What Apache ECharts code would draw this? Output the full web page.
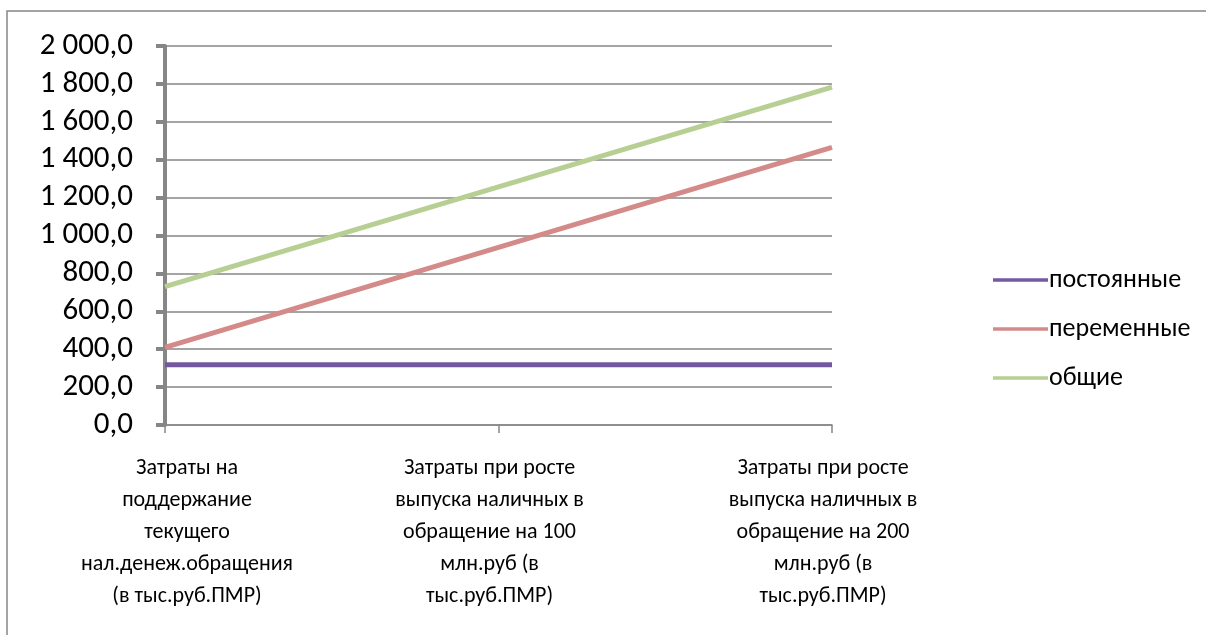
<!DOCTYPE html>
<html><head><meta charset="utf-8">
<script src="https://cdn.jsdelivr.net/npm/echarts@6/dist/echarts.min.js"></script>
<style>html,body{margin:0;padding:0;background:#fff}#c{width:1206px;height:635px}</style>
</head><body><div id="c"></div>
<script>
const categories = [
  "Затраты на\nподдержание\nтекущего\nнал.денеж.обращения\n(в тыс.руб.ПМР)",
  "Затраты при росте\nвыпуска наличных в\nобращение на 100\nмлн.руб (в\nтыс.руб.ПМР)",
  "Затраты при росте\nвыпуска наличных в\nобращение на 200\nмлн.руб (в\nтыс.руб.ПМР)"
];
const seriesNames = ["постоянные", "переменные", "общие"];
const fixedCosts = [318, 318, 318];
const variableCosts = [410, 937, 1465];
const totalCosts = [730, 1257, 1783];
const colors = ["#7459a0", "#d48a88", "#b7cf92"];

const font = "Calibri, Carlito, Lato, 'Open Sans', sans-serif";
const chart = echarts.init(document.getElementById('c'));
const mk = (name, data, i) => ({
  name, type: 'line', data, symbol: 'none',
  lineStyle: {width: 5, color: colors[i], cap: 'butt'},
  itemStyle: {color: colors[i]}, z: 3 + i
});
const catRich = {
  first: {fontSize: 22, lineHeight: 32, color: '#000', padding: [0, 0, 0, 44], fontFamily: font},
  other: {fontSize: 22, lineHeight: 32, color: '#000', padding: [0, 18, 0, 0], fontFamily: font}
};
chart.setOption({
  animation: false,
  textStyle: {fontFamily: font},
  graphic: [{type: 'rect', shape: {x: 7, y: 11, width: 1260, height: 700},
    style: {fill: 'none', stroke: '#868686', lineWidth: 1.5}}],
  grid: {left: 165, right: 374, top: 46, bottom: 210, containLabel: false},
  legend: {
    orient: 'vertical', left: 988, top: 260, itemWidth: 55, itemHeight: 14, itemGap: 19,
    icon: 'path://M0,6 L55,6 L55,9.5 L0,9.5 Z',
    textStyle: {fontSize: 26, color: '#000', fontFamily: font, lineHeight: 30, padding: [0,0,0,-4]},
    data: seriesNames
  },
  xAxis: {
    type: 'category', data: categories, boundaryGap: false,
    axisLine: {lineStyle: {color: '#868686', width: 1.5}},
    axisTick: {show: true, length: 8, lineStyle: {color: '#868686', width: 1.5}, inside: false},
    axisLabel: {color: '#000', fontSize: 22, lineHeight: 32, margin: 27, interval: 0, align: 'center',
      rich: catRich,
      formatter: (v, i) => v.split('\n').map(l => '{' + (i === 0 ? 'first' : 'other') + '|' + l + '}').join('\n')},
    splitLine: {show: false}
  },
  yAxis: {
    type: 'value', min: 0, max: 2000, interval: 200,
    axisLine: {show: true, lineStyle: {color: '#868686', width: 4}},
    axisTick: {show: true, length: 9, lineStyle: {color: '#868686', width: 4}},
    axisLabel: {color: '#000', fontSize: 31, margin: 32,
      formatter: v => { const s = v.toFixed(1).replace('.', ','); const p = s.split(','); return p[0].replace(/\B(?=(\d{3})+(?!\d))/g, ' ') + ',' + p[1]; }},
    splitLine: {lineStyle: {color: '#868686', width: 1.5}}
  },
  series: [mk(seriesNames[0], fixedCosts, 0), mk(seriesNames[1], variableCosts, 1), mk(seriesNames[2], totalCosts, 2)]
});
</script></body></html>
